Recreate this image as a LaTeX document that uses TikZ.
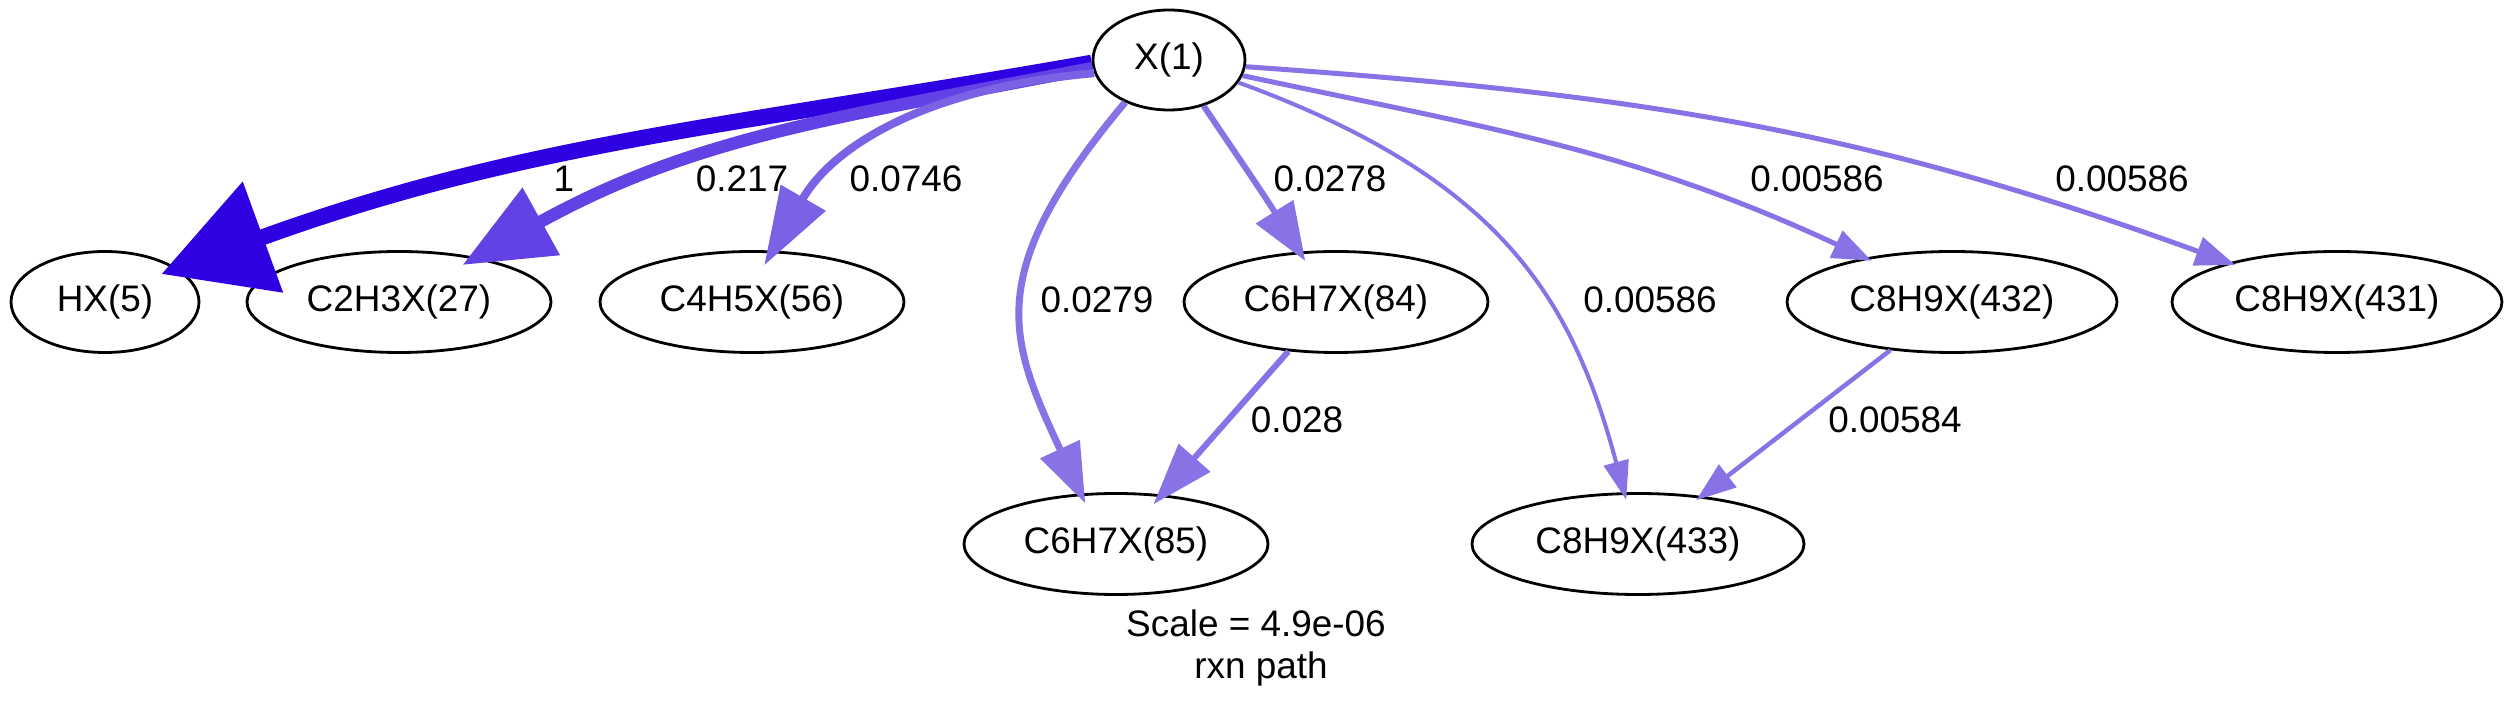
\documentclass[tikz,border=0pt]{standalone}
\usepackage{fontspec}
\setmainfont{Liberation Sans}
\usetikzlibrary{shapes.geometric, arrows.meta}
\definecolor{fluxA}{RGB}{46,0,226}
\definecolor{fluxB}{RGB}{98,66,228}
\definecolor{fluxC}{RGB}{123,97,228}
\definecolor{fluxD}{RGB}{137,114,229}
\tikzset{species/.style={draw,ellipse,line width=0.8pt,inner sep=0pt,minimum width=3.04cm,minimum height=1.01cm},
         flux/.style n args={4}{line width=#1,-{Triangle[length=#2,width=#3]},draw=#4},
         lbl/.style={inner sep=0pt,anchor=base},
        }
\begin{document}
\begin{tikzpicture}[font=\fontsize{10.5}{12.6}\selectfont]
        \useasboundingbox(0,0)rectangle(25.13,-7.11);
        \node[species,minimum width=1.52cm,minimum height=1.00cm](x1)at(11.69,-0.60){X(1)};
        \node[species,minimum width=1.88cm](hx)at(1.05,-3.02){HX(5)};
        \node[species](c2)at(3.99,-3.02){C2H3X(27)};
        \node[species](c4)at(7.52,-3.02){C4H5X(56)};
        \node[species](c6a)at(13.36,-3.02){C6H7X(84)};
        \node[species,minimum width=3.30cm](c8b)at(19.52,-3.02){C8H9X(432)};
        \node[species,minimum width=3.30cm](c8a)at(23.37,-3.02){C8H9X(431)};
        \node[species](c6b)at(11.16,-5.44){C6H7X(85)};
        \node[species,minimum width=3.32cm](c8c)at(16.38,-5.44){C8H9X(433)};

        \draw[flux={1.6mm}{10.8mm}{11.4mm}{fluxA},shorten >=-1.7mm](x1.182)to[out=190,in=20](hx.25);
        \draw[flux={1.25mm}{9mm}{7.4mm}{fluxB},shorten >=-1.6mm](x1.186)to[out=191,in=29](c2.30);
        \draw[flux={0.8mm}{7.8mm}{5mm}{fluxC},shorten >=-1.7mm](x1.190)to[out=185,in=60,out distance=1.7cm,in distance=1.2cm](c4.68);
        \draw[flux={0.7mm}{6mm}{4.2mm}{fluxD},shorten >=-1.1mm](x1.224)to[out=230,in=115,out distance=2.23cm,in distance=1.71cm](c6b.125);
        \draw[flux={0.6mm}{5.8mm}{4.3mm}{fluxD},shorten >=-1.1mm](x1.307)to[out=-56,in=122](c6a.126);
        \draw[flux={0.6mm}{6.2mm}{4.1mm}{fluxD},shorten >=-1.3mm](c6a.226)--(c6b.47);
        \draw[flux={0.4mm}{3.9mm}{2.5mm}{fluxD},shorten >=-0.8mm](x1.342)to[out=-20,in=105,out distance=2.8cm,in distance=2cm](c8c.105);
        \draw[flux={0.5mm}{3.9mm}{2.9mm}{fluxD},shorten >=-0.7mm](x1.348)to[out=-12,in=155](c8b.153);
        \draw[flux={0.5mm}{4mm}{2.9mm}{fluxD},shorten >=-0.7mm](x1.355)to[out=-4,in=160](c8a.160);
        \draw[flux={0.45mm}{4mm}{2.8mm}{fluxD},shorten >=-0.7mm](c8b.218)--(c8c.37);

        \node[lbl](l1)at(5.64,-1.92){1};
        \node[lbl](l2)at(7.42,-1.92){0.217};
        \node[lbl](l3)at(9.06,-1.92){0.0746};
        \node[lbl](l4)at(10.97,-3.125){0.0279};
        \node[lbl](l5)at(13.30,-1.92){0.0278};
        \node[lbl](l6)at(16.50,-3.125){0.00586};
        \node[lbl](l7)at(18.17,-1.92){0.00586};
        \node[lbl](l8)at(21.22,-1.92){0.00586};
        \node[lbl](l9)at(12.97,-4.33){0.028};
        \node[lbl](l10)at(18.95,-4.33){0.00584};
        \node[lbl](scale)at(12.56,-6.37){Scale = 4.9e-06};
        \node[lbl](rxn)at(12.61,-6.785){rxn path};
    \end{tikzpicture}
\end{document}
